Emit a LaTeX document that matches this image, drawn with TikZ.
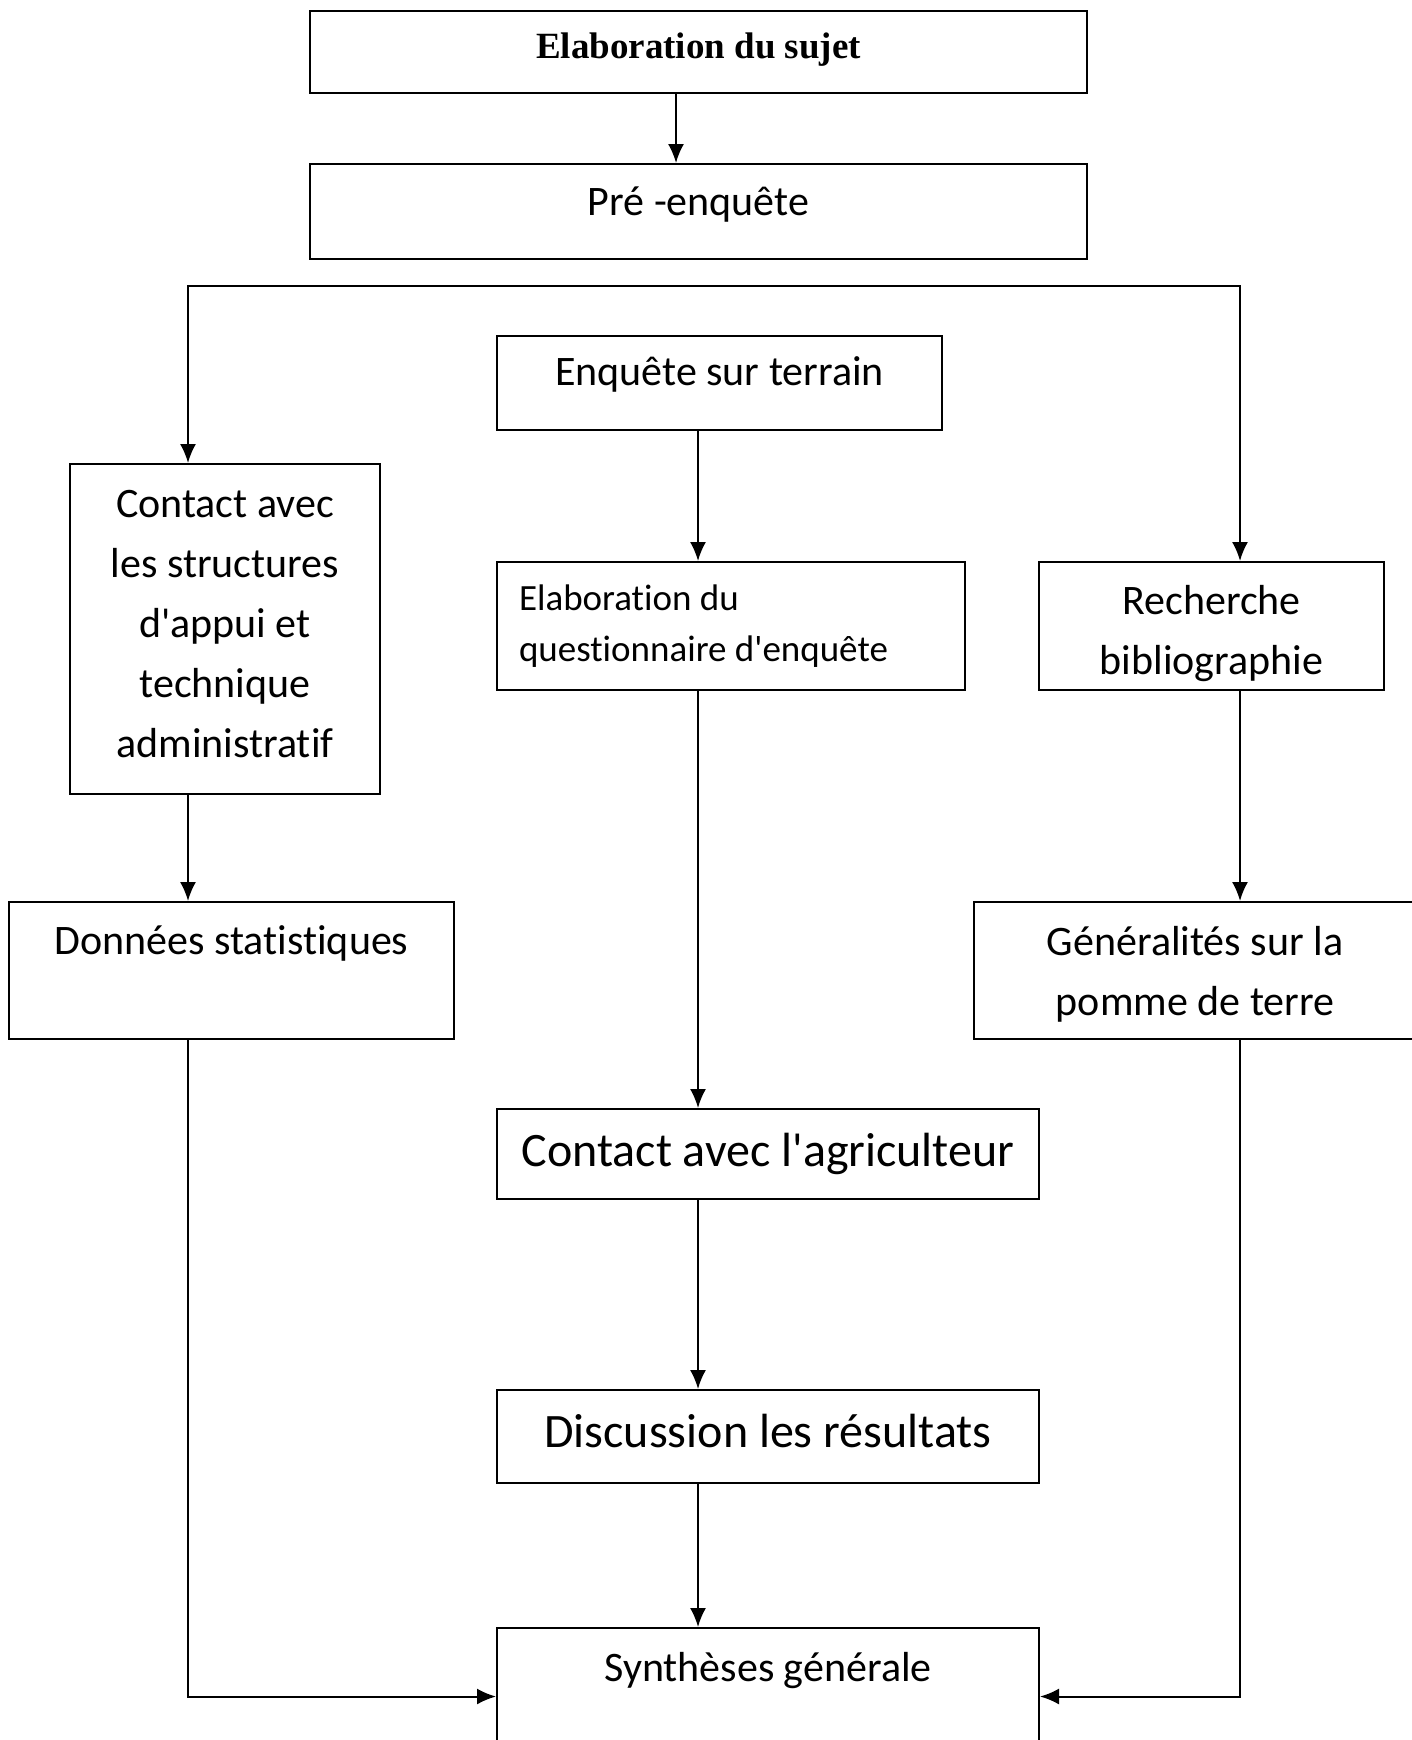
\documentclass[tikz,border=0pt]{standalone}
\usepackage{fontspec}
\setmainfont{Carlito}[Ligatures={NoCommon,TeXOff}]
\newfontfamily\titlefont{Liberation Serif}
\usetikzlibrary{arrows.meta}

% struts that push a line of text up or down inside its box
\newcommand{\lowstrut}[1]{\rule[-#1]{0pt}{#1}}
\newcommand{\highstrut}[1]{\rule{0pt}{#1}}

\begin{document}
\begin{tikzpicture}[x=1pt, y=-1pt, thick]
    \tikzstyle{node_box} = [draw=black, line width=2, rectangle, align=center, inner sep=0pt, font={\fontsize{42}{60}\selectfont}]
    \tikzstyle{node_big} = [node_box, minimum width=542pt, font={\fontsize{48}{58}\selectfont}]
    \tikzstyle{arrow_black} = [-{Latex[length=19pt, width=16pt]}, black, line width=2]
    \tikzstyle{arrow_both} = [{Latex[length=19pt, width=16pt]}-{Latex[length=19pt, width=16pt]}, black, line width=2]

    \path[use as bounding box, fill=white] (0,0) rectangle (1412,1740);

    % columns of the connectors
    \coordinate (cT) at (676,0);
    \coordinate (cL) at (188,0);
    \coordinate (cM) at (698,0);
    \coordinate (cR) at (1240,0);
    \coordinate (cTop) at (0,286);

    % ---------------------------------------

    \node[node_box, minimum width=777pt, minimum height=82pt, font={\titlefont\bfseries\fontsize{37}{44}\selectfont}] (nSujet) at (698.5,52) {Elaboration du sujet\lowstrut{13pt}};
    \node[node_box, minimum width=777pt, minimum height=95pt] (nPre) at (698.5,211.5) {Pré -enquête\lowstrut{21pt}};

    \node[node_box, minimum width=445pt, minimum height=94pt] (nEnq) at (719.5,383) {Enquête sur terrain\lowstrut{23pt}};
    \node[node_box, minimum width=310pt, minimum height=330pt] (nStruct) at (225,629) {Contact avec\\les structures\\d'appui et\\technique\\administratif\lowstrut{11pt}};
    \node[node_box, minimum width=468pt, minimum height=128pt, text width=424pt, align=flush left, font={\fontsize{37}{51}\selectfont}] (nQuest) at (731,626) {Elaboration du\\questionnaire d'enquête};
    \node[node_box, minimum width=345pt, minimum height=128pt] (nRech) at (1211.5,626) {\highstrut{44pt}Recherche\\bibliographie};

    \node[node_box, minimum width=445pt, minimum height=137pt] (nDonnees) at (231.5,970.5) {Données statistiques\\~};
    \node[node_box, minimum width=442pt, minimum height=137pt] (nGeneral) at (1195,970.5) {\highstrut{37pt}Généralités sur la\\pomme de terre};

    \node[node_big, minimum height=90pt] (nAgri) at (768,1154) {Contact avec l'agriculteur};
    \node[node_big, minimum height=93pt] (nDisc) at (768,1436.5) {Discussion les résultats\lowstrut{11pt}};
    \node[node_box, minimum width=542pt, minimum height=137pt] (nSynth) at (768,1696.5) {Synthèses générale\\~};

    % ---------------------------------------

    \draw[arrow_black] (cT |- nSujet.south) -- (cT |- nPre.north);
    \draw[arrow_both] (cL |- nStruct.north) -- (cL |- cTop) -- (cR |- cTop) -- (cR |- nRech.north);

    \draw[arrow_black] (cM |- nEnq.south) -- (cM |- nQuest.north);
    \draw[arrow_black] (cM |- nQuest.south) -- (cM |- nAgri.north);
    \draw[arrow_black] (cM |- nAgri.south) -- (cM |- nDisc.north);
    \draw[arrow_black] (cM |- nDisc.south) -- (cM |- nSynth.north);

    \draw[arrow_black] (cL |- nStruct.south) -- (cL |- nDonnees.north);
    \draw[arrow_black] (cR |- nRech.south) -- (cR |- nGeneral.north);

    \draw[arrow_black] (cL |- nDonnees.south) |- (nSynth.west);
    \draw[arrow_black] (cR |- nGeneral.south) |- (nSynth.east);

\end{tikzpicture}
\end{document}
